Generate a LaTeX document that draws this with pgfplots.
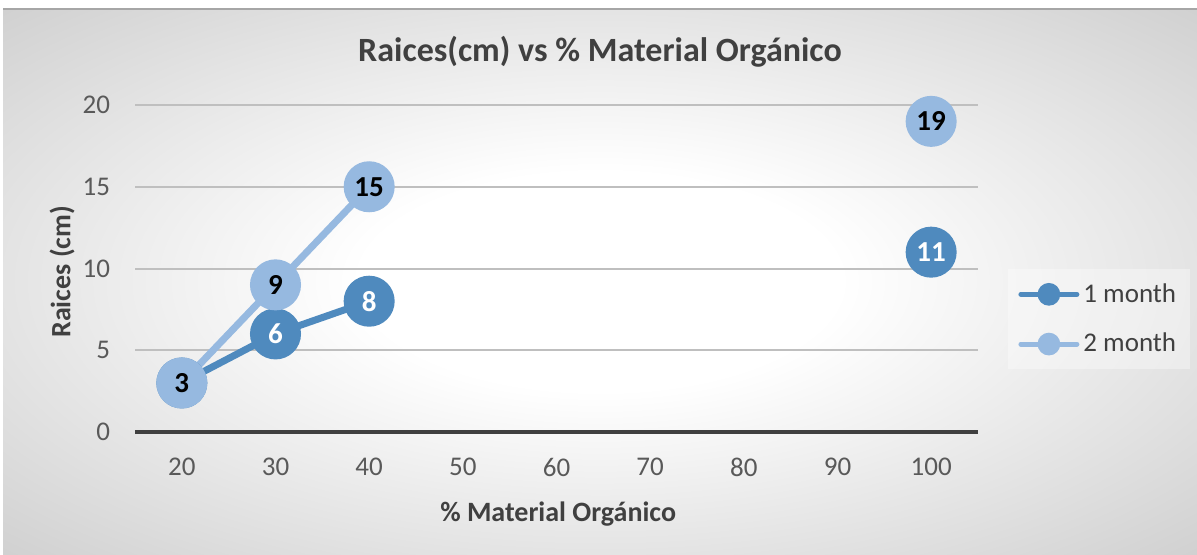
\documentclass[border=0pt]{standalone}
\usepackage{pgfplots}
\pgfplotsset{compat=1.18}
\usepackage{fontspec}
\setmainfont{Carlito}
\definecolor{cA}{RGB}{79,138,190}
\definecolor{cB}{RGB}{150,185,224}
\definecolor{txt}{RGB}{64,64,64}
\definecolor{tickc}{RGB}{89,89,89}
\definecolor{gridc}{RGB}{191,191,191}
\definecolor{bgout}{RGB}{182,182,182}
\pgfdeclareradialshading{bgshade}{\pgfpoint{0bp}{0bp}}{color(0bp)=(white); color(10bp)=(white); color(50bp)=(bgout)}
\begin{document}
\begin{tikzpicture}
\useasboundingbox (0,0) rectangle (598.5pt,277pt);
\fill[white] (0,0) rectangle (598.5pt,277pt);
\shade[shading=bgshade] (1.5pt,0) rectangle (598.5pt,272.5pt);
\draw[gray!70, line width=1pt] (1.5pt,272.5pt) -- (598.5pt,272.5pt);
\begin{axis}[
  at={(67.5pt,61pt)}, anchor=south west,
  scale only axis, width=421.5pt, height=163.5pt,
  xmin=-0.5, xmax=8.5, ymin=0, ymax=20,
  clip=false,
  unbounded coords=jump,
  /pgf/number format/assume math mode=true,
  xtick={0,...,8}, xticklabels={20,30,40,50,60,70,80,90,100},
  ytick={5,10,15,20},
  extra y ticks={0},
  extra y tick style={grid style={color=txt, line width=2pt}},
  ymajorgrids,
  grid style={color=gridc, line width=1pt},
  axis line style={draw=none},
  major tick length=0pt,
  tick style={draw=none},
  ticklabel style={font=\fontsize{13.5}{14}\selectfont, text=tickc},
  yticklabel style={xshift=-9pt},
  xticklabel style={yshift=-9.5pt},
  title={Raices(cm) vs \% Material Orgánico},
  title style={at={(axis description cs:0.5516,1.125)}, anchor=center, font=\fontsize{17}{20}\selectfont\bfseries, text=txt},
  xlabel={\% Material Orgánico},
  ylabel={Raices (cm)},
  every axis x label/.style={at={(axis description cs:0.502,-0.25)}, anchor=center, font=\fontsize{14}{16}\selectfont\bfseries, text=txt},
  every axis y label/.style={at={(axis description cs:-0.0866,0.49)}, anchor=center, rotate=90, font=\fontsize{14}{16}\selectfont\bfseries, text=txt},
  legend style={at={(axis description cs:1.0356,0.345)}, anchor=west, draw=none, fill=white, fill opacity=0.35, text opacity=1, font=\fontsize{13.5}{16}\selectfont, text=txt, row sep=10pt, inner sep=5pt},
  legend cell align=left,
]
\addplot[cA, line width=3.5pt, mark=*, mark size=11pt, mark options={solid, draw=none, fill=cA},
  nodes near coords,
  every node near coord/.append style={anchor=center, text=white, font=\fontsize{14.5}{15}\selectfont\bfseries},
  legend image code/.code={\draw[cA, draw opacity=1, line width=2.5pt, line cap=round] (0pt,0pt) -- (28pt,0pt); \fill[cA, fill opacity=1] (14pt,0pt) circle (3.9pt);}]
  coordinates {(0,3) (1,6) (2,8) (3,nan) (8,11)};
\addlegendentry{1 month}
\addplot[cB, line width=3.5pt, mark=*, mark size=11pt, mark options={solid, draw=none, fill=cB},
  nodes near coords,
  every node near coord/.append style={anchor=center, text=black, font=\fontsize{14.5}{15}\selectfont\bfseries},
  legend image code/.code={\draw[cB, draw opacity=1, line width=2.5pt, line cap=round] (0pt,0pt) -- (28pt,0pt); \fill[cB, fill opacity=1] (14pt,0pt) circle (3.9pt);}]
  coordinates {(0,3) (1,9) (2,15) (3,nan) (8,19)};
\addlegendentry{2 month}
\end{axis}
\end{tikzpicture}
\end{document}
